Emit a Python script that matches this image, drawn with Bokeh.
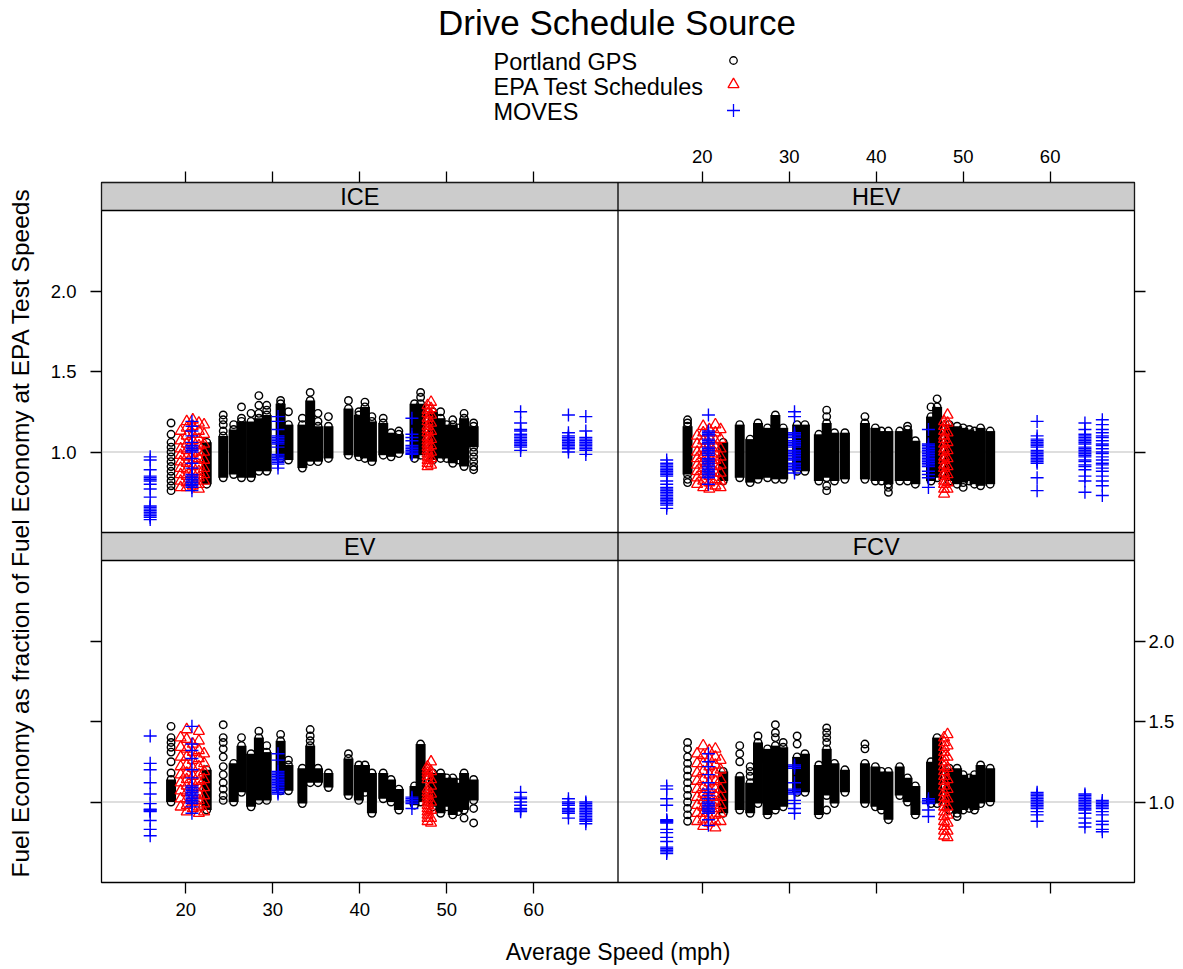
import numpy as np
from bokeh.plotting import figure
from bokeh.models import (Range1d, LinearAxis, FixedTicker, CustomJSTickFormatter,
                          BoxAnnotation, Span, Label)
from bokeh.layouts import column
from bokeh.embed import file_html
from bokeh.resources import INLINE
from bokeh.core.properties import value

# ------------------------------------------------------------------ data
TITLE = "Drive Schedule Source"
LEGEND_LABELS = ["Portland GPS", "EPA Test Schedules", "MOVES"]
PANELS = ["ICE", "HEV", "EV", "FCV"]
X_LABEL = "Average Speed (mph)"
Y_LABEL = "Fuel Economy as fraction of Fuel Economy at EPA Test Speeds"
X_TICKS = [20, 30, 40, 50, 60]
Y_TICKS = [1.0, 1.5, 2.0]

# Portland GPS: average speed of each dense column of drive cycles
GPS_SPEED = [18.3, 22.4, 24.3, 25.5, 26.4, 27.5, 28.4, 29.3, 30.9, 31.8,
             33.4, 34.3, 35.2, 36.4, 38.7, 39.9, 40.6, 41.4, 42.7, 43.6,
             44.5, 46.3, 47.0, 48.4, 49.3, 50.0, 50.7, 51.3, 52.0, 53.1]
# lowest / highest value of the dense part of each column (None = no dense part)
ICE_LO = [None, 0.80, 0.84, 0.86, 0.84, 0.84, 0.88, 0.88, 0.96, 0.95, 0.90, 0.94, 0.94, 0.96, 0.98,
          0.97, 0.96, 0.94, 0.98, 0.97, 0.99, 0.96, 0.98, 0.95, 0.96, 0.96, 0.93, 0.95, 0.91, 1.03]
ICE_HI = [None, 1.06, 1.10, 1.14, 1.19, 1.19, 1.21, 1.23, 1.30, 1.17, 1.17, 1.32, 1.16, 1.16, 1.27,
          1.23, 1.28, 1.19, 1.18, 1.12, 1.11, 1.30, 1.30, 1.25, 1.21, 1.17, 1.17, 1.15, 1.21, 1.16]
HEV_LO = [0.86, 0.82, 0.84, 0.81, 0.83, 0.84, 0.83, 0.83, 0.88, 0.88, 0.82, 0.84, 0.82, 0.83, 0.83,
          0.82, 0.82, 0.80, 0.82, 0.82, 0.80, 0.82, 0.84, 0.82, 0.80, 0.81, 0.82, 0.80, 0.79, 0.80]
HEV_HI = [1.16, 1.06, 1.17, 1.08, 1.18, 1.15, 1.23, 1.15, 1.17, 1.17, 1.11, 1.18, 1.12, 1.12, 1.18,
          1.15, 1.13, 1.13, 1.13, 1.14, 1.07, 1.22, 1.28, 1.17, 1.16, 1.15, 1.14, 1.13, 1.15, 1.13]
EV_LO = [1.00, 0.95, None, 1.00, 1.06, 0.97, 1.01, 1.01, 1.07, 1.07, 0.99, 1.12, 1.12, 1.09, 1.04,
         1.01, 1.06, 0.93, 1.02, 1.00, 0.95, 0.98, 1.00, 0.97, 0.93, 0.97, 0.92, 0.94, 0.95, 1.01]
EV_HI = [1.14, 1.20, None, 1.24, 1.35, 1.30, 1.40, 1.31, 1.38, 1.23, 1.21, 1.35, 1.21, 1.18, 1.27,
         1.23, 1.23, 1.18, 1.18, 1.14, 1.08, 1.10, 1.36, 1.18, 1.18, 1.15, 1.15, 1.12, 1.18, 1.14]
FCV_LO = [None, 0.93, 0.95, 0.93, 0.99, 0.92, 0.95, 0.97, 1.06, 1.06, 0.92, 1.04, 0.99, 1.06, 0.99,
          0.97, 0.95, 0.89, 1.04, 1.00, 0.92, 0.99, 0.99, 0.95, 0.93, 0.95, 0.96, 0.95, 0.99, 1.00]
FCV_HI = [None, 1.19, 1.16, 1.12, 1.37, 1.33, 1.35, 1.34, 1.28, 1.30, 1.23, 1.33, 1.24, 1.20, 1.24,
          1.22, 1.19, 1.19, 1.22, 1.15, 1.10, 1.25, 1.40, 1.21, 1.21, 1.17, 1.15, 1.17, 1.23, 1.21]
# Portland GPS: individually visible cycles (speed, values)
ICE_EXTRA = [(18.3, [1.18, 1.11, 1.06, 1.03, 1.00, 0.97, 0.94, 0.91, 0.88, 0.85, 0.82, 0.79, 0.76]),
             (24.3, [1.13, 1.17, 1.20, 1.23]), (25.5, [1.17]), (26.4, [1.21, 1.28]), (27.5, [1.24]),
             (28.4, [1.24, 1.29, 1.35]), (29.3, [1.26, 1.29]), (30.9, [1.32]), (31.8, [1.25]),
             (33.4, [1.21]), (34.3, [1.37]), (35.2, [1.19, 1.24]), (36.4, [1.22]), (38.7, [1.32]),
             (39.9, [1.25]), (40.6, [1.31]), (41.4, [1.22]), (42.7, [1.21]), (44.5, [1.13]),
             (47.0, [1.34, 1.37]), (49.3, [1.25]), (50.7, [1.20]), (52.0, [1.24]),
             (53.1, [1.18, 1.00, 0.97, 0.94, 0.91, 0.89])]
HEV_EXTRA = [(18.3, [1.20, 1.18, 0.83, 0.81]), (34.3, [1.26, 1.22, 0.79, 0.76]), (38.7, [1.22]),
             (41.4, [0.78, 0.75]), (43.6, [1.16]), (46.3, [1.28]), (47.0, [1.33]), (50.0, [0.78])]
EV_EXTRA = [(18.3, [1.47, 1.40, 1.37, 1.34, 1.31, 1.25, 1.18]),
            (24.3, [1.48, 1.40, 1.37, 1.33, 1.28, 1.22, 1.17, 1.12, 1.08, 1.04, 1.01]),
            (26.4, [1.40]), (28.4, [1.44]), (29.3, [1.35]), (30.9, [1.42]), (31.8, [1.26]),
            (34.3, [1.38, 1.41, 1.45]), (38.7, [1.30]), (41.4, [1.01]), (49.3, [0.97]),
            (52.0, [0.90]), (53.1, [0.96, 0.87])]
FCV_EXTRA = [(18.3, [1.37, 1.33, 1.28, 1.24, 1.20, 1.16, 1.12, 1.08, 1.04, 1.00, 0.96, 0.92, 0.88]),
             (24.3, [1.25, 1.30, 1.35]), (25.5, [1.16, 1.19, 1.22]), (26.4, [1.41]),
             (28.4, [1.40, 1.43, 1.48]), (29.3, [1.37]), (30.9, [1.36, 1.41]),
             (34.3, [1.37, 1.40, 1.43, 1.46, 0.95]), (38.7, [1.33, 1.36]), (49.3, [0.91])]

# EPA test schedules
EPA_SPEED = [19.4, 20.1, 20.8, 21.5, 22.1, 47.8, 48.2]
EPA_ICE = [[1.13, 1.07, 1.02, 0.98, 0.94, 0.90, 0.86, 0.82, 0.78],
           [1.19, 1.15, 1.10, 1.05, 1.01, 0.97, 0.93, 0.89, 0.85, 0.81, 0.78],
           [1.20, 1.16, 1.11, 1.07, 1.03, 0.99, 0.95, 0.91, 0.87, 0.83, 0.79],
           [1.18, 1.13, 1.08, 1.04, 1.00, 0.96, 0.92, 0.88, 0.84, 0.80, 0.77],
           [1.17, 1.11, 1.05, 1.00, 0.95, 0.90, 0.86, 0.82],
           [1.29, 1.26, 1.24, 1.21, 1.19, 1.16, 1.14, 1.12, 1.09, 1.07, 1.05, 1.03, 1.01, 0.99,
            0.97, 0.95, 0.93, 0.91],
           [1.31, 1.27, 1.23, 1.18, 1.13, 1.08, 1.04, 1.00, 0.96, 0.92]]
EPA_HEV = [[1.10, 1.05, 1.00, 0.96, 0.92, 0.88, 0.84, 0.80],
           [1.16, 1.12, 1.07, 1.02, 0.98, 0.94, 0.90, 0.86, 0.82, 0.78],
           [1.14, 1.09, 1.05, 1.01, 0.97, 0.93, 0.89, 0.85, 0.81, 0.77],
           [1.17, 1.12, 1.07, 1.03, 0.99, 0.95, 0.91, 0.87, 0.83, 0.79],
           [1.14, 1.08, 1.02, 0.97, 0.92, 0.87, 0.82, 0.78],
           [1.19, 1.16, 1.13, 1.10, 1.08, 1.05, 1.02, 1.00, 0.97, 0.95, 0.92, 0.90, 0.87, 0.85,
            0.82, 0.80, 0.77, 0.74],
           [1.23, 1.18, 1.12, 1.06, 1.01, 0.96, 0.91, 0.86, 0.81, 0.77]]
EPA_EV = [[1.40, 1.34, 1.28, 1.22, 1.17, 1.12, 1.07, 1.02, 0.97],
          [1.45, 1.39, 1.33, 1.28, 1.23, 1.18, 1.14, 1.10, 1.06, 1.02, 0.98, 0.94],
          [1.36, 1.31, 1.26, 1.21, 1.16, 1.12, 1.08, 1.04, 1.00, 0.96],
          [1.44, 1.38, 1.32, 1.27, 1.22, 1.17, 1.13, 1.09, 1.05, 1.01, 0.97, 0.93],
          [1.30, 1.24, 1.19, 1.14, 1.09, 1.04, 0.99, 0.94],
          [1.22, 1.20, 1.18, 1.16, 1.14, 1.08, 1.06, 1.04, 1.02, 1.00, 0.98, 0.96, 0.94, 0.92,
           0.90, 0.88],
          [1.25, 1.19, 1.14, 1.10, 1.05, 1.00, 0.95, 0.90, 0.87]]
EPA_FCV = [[1.30, 1.24, 1.18, 1.13, 1.08, 1.03, 0.98, 0.93, 0.88],
           [1.35, 1.29, 1.24, 1.19, 1.14, 1.09, 1.05, 1.01, 0.97, 0.93, 0.89, 0.85],
           [1.32, 1.27, 1.22, 1.17, 1.12, 1.07, 1.03, 0.99, 0.95, 0.91, 0.87],
           [1.33, 1.28, 1.23, 1.18, 1.13, 1.08, 1.04, 1.00, 0.96, 0.92, 0.88, 0.84],
           [1.26, 1.20, 1.14, 1.08, 1.03, 0.98, 0.93, 0.88],
           [1.40, 1.37, 1.34, 1.31, 1.28, 1.25, 1.22, 1.19, 1.16, 1.13, 1.10, 1.06, 1.03, 1.00,
            0.97, 0.94, 0.91, 0.88, 0.85, 0.82, 0.79],
           [1.42, 1.35, 1.28, 1.21, 1.14, 1.08, 1.02, 0.97, 0.92, 0.87, 0.82, 0.78]]

# MOVES drive schedules
MOVES_SPEED = [15.9, 20.7, 30.6, 46.0, 58.5, 64.0, 66.0]
MOVES_ICE = [[0.97, 0.95, 0.89, 0.85, 0.84, 0.83, 0.82, 0.80, 0.77, 0.72, 0.665, 0.655, 0.645,
              0.635, 0.625, 0.615, 0.605, 0.595, 0.58],
             [1.19, 1.16, 1.13, 1.10, 1.06, 1.04, 1.03, 1.02, 1.01, 1.00, 0.96, 0.93, 0.90, 0.86,
              0.85, 0.84, 0.83, 0.82, 0.81, 0.80, 0.79, 0.78, 0.76],
             [1.22, 1.19, 1.14, 1.10, 1.09, 1.08, 1.07, 1.06, 1.05, 1.03, 0.985, 0.975, 0.965,
              0.955, 0.945, 0.935, 0.925, 0.90],
             [1.21, 1.11, 1.09, 1.07, 1.04, 1.03, 1.02, 1.01, 1.00, 0.99, 0.985],
             [1.25, 1.18, 1.14, 1.13, 1.11, 1.10, 1.09, 1.08, 1.07, 1.06, 1.05, 1.04, 1.03, 1.01],
             [1.23, 1.12, 1.10, 1.09, 1.08, 1.07, 1.06, 1.05, 1.04, 1.03, 1.02, 1.00],
             [1.22, 1.13, 1.09, 1.08, 1.07, 1.06, 1.05, 1.04, 1.03, 1.02, 1.01, 0.985]]
MOVES_HEV = [[0.95, 0.93, 0.92, 0.91, 0.90, 0.89, 0.88, 0.87, 0.86, 0.85, 0.82, 0.80, 0.78, 0.77,
              0.76, 0.75, 0.74, 0.73, 0.72, 0.71, 0.70, 0.69, 0.68, 0.67, 0.65],
             [1.23, 1.13, 1.12, 1.11, 1.10, 1.08, 1.07, 1.06, 1.05, 1.03, 1.02, 1.01, 1.00, 0.99,
              0.98, 0.96, 0.95, 0.94, 0.93, 0.92, 0.91, 0.90, 0.89, 0.88, 0.87, 0.86, 0.85, 0.84,
              0.80],
             [1.25, 1.22, 1.12, 1.11, 1.10, 1.09, 1.07, 1.06, 1.05, 1.04, 1.03, 1.01, 1.00, 0.99,
              0.98, 0.97, 0.96, 0.95, 0.93, 0.92, 0.91, 0.90, 0.89, 0.87],
             [1.14, 1.05, 1.04, 1.03, 1.02, 1.01, 1.00, 0.99, 0.98, 0.97, 0.96, 0.95, 0.94, 0.93,
              0.92, 0.91, 0.88, 0.86, 0.84, 0.78],
             [1.19, 1.10, 1.08, 1.07, 1.06, 1.05, 1.04, 1.03, 1.01, 1.00, 0.99, 0.98, 0.97, 0.96,
              0.95, 0.94, 0.93, 0.84, 0.76],
             [1.18, 1.14, 1.11, 1.10, 1.09, 1.08, 1.07, 1.06, 1.05, 1.03, 1.02, 1.01, 1.00, 0.99,
              0.98, 0.97, 0.95, 0.94, 0.92, 0.91, 0.89, 0.85, 0.82, 0.75],
             [1.20, 1.17, 1.14, 1.12, 1.10, 1.09, 1.07, 1.05, 1.04, 1.02, 1.00, 0.99, 0.97, 0.95,
              0.93, 0.92, 0.90, 0.88, 0.85, 0.82, 0.79, 0.73]]
MOVES_EV = [[1.41, 1.24, 1.20, 1.12, 1.05, 0.99, 0.955, 0.95, 0.945, 0.94, 0.885, 0.83, 0.79],
            [1.47, 1.36, 1.32, 1.27, 1.20, 1.15, 1.10, 1.09, 1.08, 1.07, 1.06, 1.05, 1.04, 1.03,
             1.02, 1.01, 1.00, 0.99, 0.97, 0.93],
            [1.30, 1.26, 1.19, 1.18, 1.17, 1.16, 1.15, 1.14, 1.13, 1.12, 1.11, 1.10, 1.09, 1.08,
             1.07, 1.06, 1.05],
            [1.03, 1.02, 1.01, 1.00, 0.99, 0.96],
            [1.06, 1.03, 1.02, 1.00, 0.98, 0.96, 0.95, 0.94],
            [1.02, 1.00, 0.99, 0.98, 0.96, 0.95, 0.94, 0.93, 0.90],
            [1.00, 0.99, 0.98, 0.97, 0.96, 0.95, 0.94, 0.93, 0.92, 0.91, 0.90, 0.89, 0.88, 0.865]]
MOVES_FCV = [[1.10, 1.08, 1.02, 0.98, 0.89, 0.885, 0.88, 0.875, 0.87, 0.83, 0.81, 0.78, 0.755,
              0.72, 0.71, 0.70, 0.69, 0.68],
             [1.30, 1.25, 1.22, 1.17, 1.12, 1.08, 1.06, 1.04, 1.02, 1.00, 0.99, 0.98, 0.97, 0.96,
              0.95, 0.94, 0.93, 0.89, 0.855],
             [1.23, 1.22, 1.21, 1.12, 1.08, 1.07, 1.06, 1.05, 1.01, 0.99, 0.96, 0.93],
             [1.02, 1.01, 1.00, 0.99, 0.95, 0.91],
             [1.06, 1.05, 1.04, 1.03, 1.02, 1.01, 1.00, 0.99, 0.98, 0.97, 0.96, 0.94, 0.92, 0.88],
             [1.05, 1.04, 1.03, 1.02, 1.01, 1.00, 0.99, 0.98, 0.97, 0.96, 0.95, 0.93, 0.90, 0.87,
              0.845],
             [1.01, 1.00, 0.99, 0.98, 0.97, 0.96, 0.94, 0.92, 0.88, 0.86, 0.83, 0.815]]

# ------------------------------------------------------------------ styling / layout
FONT = "Liberation Sans"
BLACK, RED, BLUE = "#000000", "#FF0000", "#0000FF"
STRIP_FILL = "#CCCCCC"
REF_COLOR = "#BEBEBE"
W_PX = 1183
HEAD_H = 130
MAIN_H = 969 - HEAD_H
BORDER_L, BORDER_R = 101, 49

XLO, XHI = 10.3, 69.7          # x limits of one panel (mph)
XW = XHI - XLO
YLO, YHI = 0.5, 2.5            # y limits of one panel
STRIP = 28.0 / 161.0           # strip height in y units
PH = (YHI - YLO) + STRIP       # panel + strip height

# ------------------------------------------------------------------ header (title + key)
# x_range expressed in page pixels of the (aligned) frame
h = figure(width=W_PX, height=HEAD_H, x_range=Range1d(BORDER_L, W_PX - BORDER_R),
           y_range=Range1d(HEAD_H, 0),
           toolbar_location=None, output_backend="svg",
           min_border_left=BORDER_L, min_border_right=BORDER_R,
           min_border_top=0, min_border_bottom=0,
           x_axis_location=None, y_axis_location=None)
h.grid.visible = False
h.outline_line_color = None
h.text(x=[616.5], y=[22], text=[TITLE], text_font=value(FONT), text_font_size="35px",
       text_align="center", text_baseline="middle", text_color=BLACK)
key_y = [61, 86, 111]
h.text(x=[493] * 3, y=key_y, text=LEGEND_LABELS, text_font=value(FONT), text_font_size="23.5px",
       text_align="left", text_baseline="middle", text_color=BLACK)
h.scatter(x=[733], y=[key_y[0] - 1], marker="circle", size=7.5, fill_color=None,
          line_color=BLACK, line_width=1.3)
h.scatter(x=[733], y=[key_y[1] - 2], marker="triangle", size=11, fill_color=None,
          line_color=RED, line_width=1.3)
h.scatter(x=[733], y=[key_y[2] - 1], marker="cross", size=13, line_color=BLUE, line_width=1.3)

# ------------------------------------------------------------------ main lattice
p = figure(width=W_PX, height=MAIN_H,
           x_range=Range1d(XLO, XLO + 2 * XW), y_range=Range1d(YLO, YLO + 2 * PH),
           toolbar_location=None, output_backend="svg",
           x_axis_location=None, y_axis_location=None,
           min_border_left=BORDER_L, min_border_right=BORDER_R,
           min_border_top=52, min_border_bottom=87)
p.extra_x_ranges = {"right": Range1d(XLO - XW, XHI)}
p.extra_y_ranges = {"top": Range1d(YLO - PH, YLO + PH)}
p.grid.visible = False
p.outline_line_color = BLACK
p.outline_line_width = 1.3
p.background_fill_color = "white"
p.border_fill_color = "white"


def style_axis(ax, standoff):
    ax.major_tick_out = 11
    ax.major_tick_in = 0
    ax.minor_tick_out = 0
    ax.minor_tick_in = 0
    ax.major_tick_line_color = BLACK
    ax.major_tick_line_width = 1.3
    ax.axis_line_color = None
    ax.major_label_text_font = FONT
    ax.major_label_text_font_size = "18.5px"
    ax.major_label_text_color = BLACK
    ax.major_label_standoff = standoff
    ax.axis_label_text_font = FONT
    ax.axis_label_text_font_size = "23px"
    ax.axis_label_text_font_style = "normal"
    ax.axis_label_text_color = BLACK


x_all = X_TICKS + [t + XW for t in X_TICKS]
y_all = Y_TICKS + [t + PH for t in Y_TICKS]

ax_b = LinearAxis(ticker=FixedTicker(ticks=x_all),
                  formatter=CustomJSTickFormatter(args=dict(lim=XHI),
                                                  code="return tick < lim ? tick.toFixed(0) : '';"),
                  axis_label=X_LABEL)
style_axis(ax_b, 9)
ax_b.axis_label_standoff = 20
p.add_layout(ax_b, "below")

ax_t = LinearAxis(ticker=FixedTicker(ticks=x_all),
                  formatter=CustomJSTickFormatter(args=dict(lim=XHI, w=XW),
                                                  code="return tick > lim ? (tick - w).toFixed(0) : '';"))
style_axis(ax_t, 9)
p.add_layout(ax_t, "above")

ax_l = LinearAxis(ticker=FixedTicker(ticks=y_all),
                  formatter=CustomJSTickFormatter(args=dict(lim=YHI + STRIP, h=PH),
                                                  code="return tick > lim ? (tick - h).toFixed(1) : '';"),
                  axis_label=Y_LABEL)
style_axis(ax_l, 14)
ax_l.axis_label_text_font_size = "24.5px"
ax_l.axis_label_standoff = 14
p.add_layout(ax_l, "left")

ax_r = LinearAxis(ticker=FixedTicker(ticks=y_all),
                  formatter=CustomJSTickFormatter(args=dict(lim=YHI + STRIP),
                                                  code="return tick < lim ? tick.toFixed(1) : '';"))
style_axis(ax_r, 3)
p.add_layout(ax_r, "right")

# strips, separators and reference lines
p.add_layout(BoxAnnotation(bottom=YHI, top=YHI + STRIP, fill_color=STRIP_FILL, fill_alpha=1.0,
                           line_color=BLACK, line_width=1.3, line_alpha=1.0))
p.add_layout(BoxAnnotation(bottom=YHI, y_range_name="top", fill_color=STRIP_FILL, fill_alpha=1.0,
                           line_color=BLACK, line_width=1.3, line_alpha=1.0))
p.add_layout(Span(location=XHI, dimension="height", line_color=BLACK, line_width=1.3))
p.add_layout(Span(location=1.0, dimension="width", line_color=REF_COLOR, line_width=1.2,
                  level="underlay"))
p.add_layout(Span(location=1.0, dimension="width", y_range_name="top", line_color=REF_COLOR,
                  line_width=1.2, level="underlay"))

panel_specs = [
    ("ICE", None, "top", ICE_LO, ICE_HI, ICE_EXTRA, EPA_ICE, MOVES_ICE),
    ("HEV", "right", "top", HEV_LO, HEV_HI, HEV_EXTRA, EPA_HEV, MOVES_HEV),
    ("EV", None, None, EV_LO, EV_HI, EV_EXTRA, EPA_EV, MOVES_EV),
    ("FCV", "right", None, FCV_LO, FCV_HI, FCV_EXTRA, EPA_FCV, MOVES_FCV),
]

for name, xr, yr, lo, hi, extra, epa, moves in panel_specs:
    kw = {}
    if xr:
        kw["x_range_name"] = xr
    if yr:
        kw["y_range_name"] = yr
    lo_a = np.array(lo, dtype=float)
    hi_a = np.array(hi, dtype=float)
    spd = np.array(GPS_SPEED, dtype=float)
    # dense parts of the Portland GPS columns
    p.segment(x0=spd, y0=lo_a, x1=spd, y1=hi_a, line_color=BLACK, line_width=10,
              line_cap="butt", **kw)
    gx = list(spd) + list(spd)
    gy = list(lo_a) + list(hi_a)
    for s, vals in extra:
        gx += [s] * len(vals)
        gy += vals
    gx = np.array(gx, dtype=float)
    gy = np.array(gy, dtype=float)
    ok = ~np.isnan(gy)
    p.scatter(x=gx[ok], y=gy[ok], marker="circle", size=7.5, fill_color=None,
              line_color=BLACK, line_width=1.4, **kw)
    # EPA test schedules
    ex, ey = [], []
    for s, vals in zip(EPA_SPEED, epa):
        ex += [s] * len(vals)
        ey += vals
    p.scatter(x=ex, y=ey, marker="triangle", size=11, fill_color=None,
              line_color=RED, line_width=1.3, **kw)
    # MOVES
    mx, my = [], []
    for s, vals in zip(MOVES_SPEED, moves):
        mx += [s] * len(vals)
        my += vals
    p.scatter(x=mx, y=my, marker="cross", size=13, line_color=BLUE, line_width=1.4, **kw)
    # strip label
    lab_kw = {}
    if xr:
        lab_kw["x_range_name"] = xr
    if yr:
        lab_kw["y_range_name"] = yr
    p.add_layout(Label(x=(XLO + XHI) / 2, y=YHI + STRIP / 2, text=name, text_font=FONT,
                       text_font_size="23.5px", text_align="center", text_baseline="middle",
                       text_color=BLACK, **lab_kw))

layout = column(h, p)
open("out.html", "w").write(file_html(layout, INLINE))
